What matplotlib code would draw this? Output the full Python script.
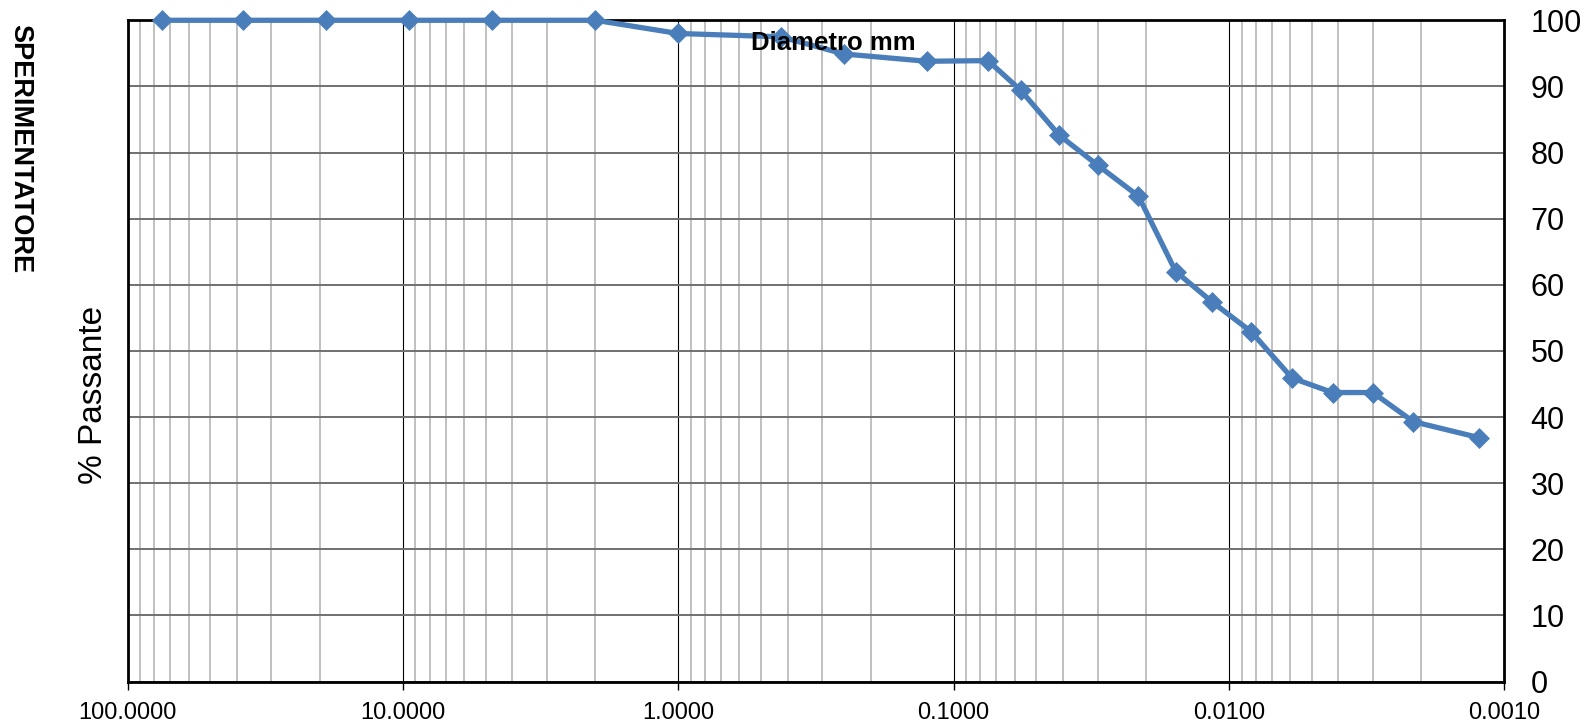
import matplotlib
matplotlib.use("Agg")
import matplotlib.pyplot as plt
from matplotlib.ticker import FixedLocator, FuncFormatter, NullFormatter, LogLocator

plt.rcParams['font.family'] = ['Liberation Sans', 'DejaVu Sans']

# curva granulometrica: diametro (mm) e % passante
diametro = [75, 38, 19, 9.5, 4.75, 2.0, 1.0, 0.425, 0.25, 0.125, 0.075,
            0.057, 0.0413, 0.0300, 0.0213, 0.0156, 0.0115, 0.0083, 0.0059,
            0.0042, 0.0030, 0.00214, 0.00124]
passante = [100, 100, 100, 100, 100, 100, 98.0, 97.5, 94.9, 93.8, 93.9,
            89.4, 82.6, 78.1, 73.4, 62.0, 57.4, 52.9, 45.9, 43.7, 43.7,
            39.3, 36.9]

x_ticks = [100, 10, 1, 0.1, 0.01, 0.001]
y_ticks = list(range(0, 101, 10))

fig = plt.figure(figsize=(15.94, 7.24), dpi=100)
ax = fig.add_axes([0.0800, 0.0587, 0.8637, 0.9133])

ax.set_xscale('log')
ax.set_xlim(100, 0.001)
ax.set_ylim(0, 100)

ax.xaxis.set_major_locator(FixedLocator(x_ticks))
ax.xaxis.set_major_formatter(FuncFormatter(lambda v, p: '%.4f' % v))
ax.xaxis.set_minor_locator(LogLocator(base=10, subs=range(2, 10), numticks=20))
ax.xaxis.set_minor_formatter(NullFormatter())
ax.set_yticks(y_ticks)

ax.grid(which='minor', axis='x', color='#C0C0C0', lw=1.4, zorder=0)
ax.grid(which='major', axis='x', color='black', lw=0.8, zorder=1)
ax.grid(which='major', axis='y', color='#707070', lw=1.4, zorder=1)
ax.set_axisbelow(True)

ax.plot(diametro, passante, color='#4A7EBB', lw=3.8, marker='D', ms=10.5,
        mec='#4A7EBB', mew=0.5, clip_on=False, zorder=5)

ax.yaxis.tick_right()
ax.tick_params(axis='y', which='both', length=0, pad=19, labelsize=22)
ax.tick_params(axis='x', which='major', length=6, width=1, direction='out',
               pad=9, labelsize=17)
ax.tick_params(axis='x', which='minor', length=0)

for s in ax.spines.values():
    s.set_linewidth(2)
    s.set_color('black')

ax.text(0.513, 0.955, 'Diametro mm', transform=ax.transAxes, ha='center',
        va='baseline', fontsize=18.5, fontweight='bold', zorder=6)

fig.text(94 / 1594, 1 - 395 / 724, '% Passante', rotation=90, ha='center',
         va='center', fontsize=24)
fig.text(20.5 / 1594, 1 - 149 / 724, 'SPERIMENTATORE', rotation=270,
         ha='center', va='center', fontsize=19.5, fontweight='bold')

fig.savefig('out.png', dpi=100)
